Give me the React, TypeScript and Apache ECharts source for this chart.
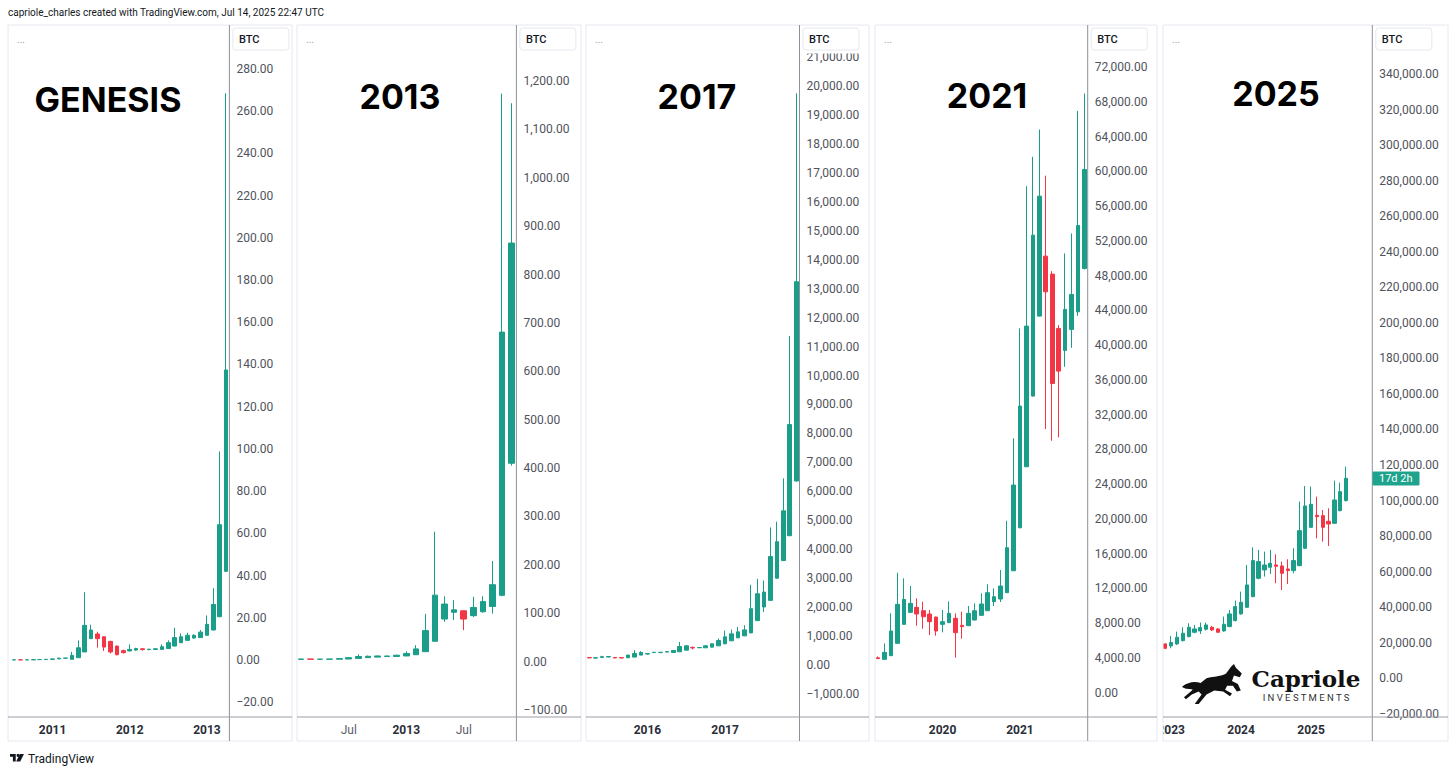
import React, { useEffect, useRef } from "react";
import * as echarts from "echarts";

// ---------- DATA ----------
const genesisMonths = ["2010-07","2010-08","2010-09","2010-10","2010-11","2010-12","2011-01","2011-02","2011-03","2011-04","2011-05","2011-06","2011-07","2011-08","2011-09","2011-10","2011-11","2011-12","2012-01","2012-02","2012-03","2012-04","2012-05","2012-06","2012-07","2012-08","2012-09","2012-10","2012-11","2012-12","2013-01","2013-02","2013-03","2013-04"];
// [open, close, low, high]
const genesisCandles = [
  [0.05,0.07,0.05,0.1],[0.07,0.06,0.05,0.07],[0.06,0.065,0.06,0.07],[0.065,0.19,0.06,0.2],
  [0.19,0.21,0.14,0.5],[0.21,0.3,0.2,0.3],[0.3,0.52,0.3,0.55],[0.52,0.86,0.52,1.1],
  [0.86,0.9,0.7,0.95],[0.3,2.2,0.3,3.8],[1.1,5.8,1.1,9.3],[3.8,16.4,3.8,32.1],
  [10.1,14.2,10.1,16.7],[12.3,10.1,5.8,13.4],[11.0,6.1,4.3,11.3],[8.8,3.8,3.1,9.1],
  [6.6,2.5,2.2,6.8],[4.4,3.5,3.0,4.9],[4.3,5.0,4.0,7.4],[4.7,5.4,4.4,5.8],
  [5.3,5.0,4.4,5.5],[4.9,5.1,4.7,5.3],[5.0,5.3,4.8,5.5],[5.0,6.3,4.9,7.4],
  [5.4,8.2,5.2,9.3],[6.6,10.6,6.5,15.3],[8.2,11.0,8.0,12.6],[9.3,11.7,9.1,12.9],
  [10.4,11.7,10.2,12.2],[10.6,13.2,10.5,14.2],[11.7,16.9,11.5,21.1],[14.2,26.3,14.0,34.0],
  [20.5,64.1,20.3,98.8],[42.0,137.4,41.8,268.5]
];

const cycle2013Months = ["2012-02","2012-03","2012-04","2012-05","2012-06","2012-07","2012-08","2012-09","2012-10","2012-11","2012-12","2013-01","2013-02","2013-03","2013-04","2013-05","2013-06","2013-07","2013-08","2013-09","2013-10","2013-11","2013-12"];
const cycle2013Candles = [
  [4.7,5.4,4.4,5.8],[5.3,5.0,4.4,5.5],[4.9,5.1,4.7,5.3],[5.0,5.3,4.8,5.5],[5.0,6.3,4.9,7.4],
  [5.4,8.2,5.2,9.3],[6.6,10.6,6.5,15.3],[8.2,11.0,8.0,12.6],[9.3,11.7,9.1,12.9],[10.4,11.7,10.2,12.2],
  [10.6,13.2,10.5,14.2],[11.7,16.9,11.5,21.1],[14.2,26.3,14.0,34.0],[20.5,64.1,20.3,98.8],
  [42.0,137.4,41.8,268.5],[88,119,82,135],[102,107,86,127],[105,88,65,106],[95,112,92,134],
  [103,124,101,135],[114,159,99,208],[137,681,135,1174],[410,865,405,1154]
];

const cycle2017Months = ["2015-04","2015-05","2015-06","2015-07","2015-08","2015-09","2015-10","2015-11","2015-12","2016-01","2016-02","2016-03","2016-04","2016-05","2016-06","2016-07","2016-08","2016-09","2016-10","2016-11","2016-12","2017-01","2017-02","2017-03","2017-04","2017-05","2017-06","2017-07","2017-08","2017-09","2017-10","2017-11","2017-12"];
const cycle2017Candles = [
  [262,248,230,270],[240,252,232,262],[265,290,255,321],[280,292,265,310],[262,245,235,270],
  [255,245,238,262],[252,344,248,350],[275,401,270,515],[344,435,340,481],[380,395,360,410],
  [430,440,420,450],[430,442,410,450],[450,462,440,470],[435,504,430,520],[458,641,455,802],
  [515,664,500,690],[610,590,540,640],[596,606,590,615],[596,664,590,680],[619,733,610,750],
  [664,848,655,916],[733,974,720,1191],[836,1077,830,1226],[939,1146,930,1317],[1008,1214,1000,1375],
  [1111,1947,1100,2772],[1535,2463,1520,2978],[2005,2520,1833,2921],[2234,3746,2220,4754],
  [3001,4261,2980,4949],[3608,5327,3590,6449],[4468,8305,4450,11363],[6357,13240,6340,19748]
];

const cycle2021Months = ["2019-03","2019-04","2019-05","2019-06","2019-07","2019-08","2019-09","2019-10","2019-11","2019-12","2020-01","2020-02","2020-03","2020-04","2020-05","2020-06","2020-07","2020-08","2020-09","2020-10","2020-11","2020-12","2021-01","2021-02","2021-03","2021-04","2021-05","2021-06","2021-07","2021-08","2021-09","2021-10","2021-11"];
const cycle2021Candles = [
  [4000,3900,3850,4150],[3817,4622,3800,5658],[4238,7077,4200,9110],[5658,10146,5600,13789],
  [7844,10721,7800,13137],[9225,10261,9200,12255],[9800,9033,7690,10836],[9416,8726,7345,10452],
  [9033,8150,6616,9493],[8688,7077,6540,8726],[7844,8150,6924,9493],[8036,9110,8000,10491],
  [8535,6885,4008,9110],[7729,7575,6194,9301],[7690,9110,7650,9954],[8343,9416,8300,10261],
  [8880,10184,8850,11411],[9416,11488,9400,12447],[10452,11027,9954,11987],[10759,12255,10414,14096],
  [11488,16666,11450,19773],[14019,23877,13980,29247],[18967,32968,18900,41911],[25984,42175,25950,58285],
  [34117,52647,34080,61660],[43325,57134,43300,64808],[50230,46122,30323,59493],[48160,35578,28978,48500],
  [41906,36994,29365,42290],[39378,44094,37490,50541],[41791,45820,39676,52842],[43819,53763,43359,66950],
  [48807,60200,48700,68950]
];

const cycle2025Months = ["2022-12","2023-01","2023-02","2023-03","2023-04","2023-05","2023-06","2023-07","2023-08","2023-09","2023-10","2023-11","2023-12","2024-01","2024-02","2024-03","2024-04","2024-05","2024-06","2024-07","2024-08","2024-09","2024-10","2024-11","2024-12","2025-01","2025-02","2025-03","2025-04","2025-05","2025-06","2025-07","2025-08","2025-09","2025-10","2025-11"];
const cycle2025Candles = [
  [19318,16880,16318,19700],[18193,20068,16880,23818],[19318,23068,18755,26256],[21193,25318,20630,28693],
  [23443,28693,23000,30943],[25880,27755,25318,30006],[26630,28505,24943,31318],[27568,30006,26818,31318],
  [28693,27193,26630,29443],[27755,25880,25693,28300],[26630,30381,26200,34693],[29068,36193,28700,38443],
  [32443,40318,32000,43693],[36193,42756,35800,48756],[39943,52506,39500,63756],[45943,66193,45600,73693],
  [56256,65631,55693,72193],[60943,63756,57193,71256],[62443,64693,58693,72193],[63756,63006,53443,69756],
  [63193,59068,49693,65631],[61506,60568,53068,66943],[60568,66193,59068,73131],[63381,83068,63000,99381],
  [73131,96943,72700,108193],[84943,97881,84500,107818],[91693,90943,78756,102193],[91506,84943,76881,94693],
  [88318,86818,74443,95631],[87193,100318,86800,111193],[94318,105006,93900,110068],[99943,112506,99500,119068]
];

const panelTitles = ["GENESIS", "2013", "2017", "2021", "2025"];
const yMin = [-20, -100, -1000, 0, -20000];
const yMax = [280, 1200, 21000, 72000, 340000];
const yStep = [20, 100, 1000, 4000, 20000];

// ---------- STYLE / LAYOUT ----------
const UP = "#1a9e89";
const DOWN = "#f23645";
const FONT = "Roboto, 'Noto Sans', sans-serif";

const layout = [
  { frameL: 8, frameR: 292, left: 10.8, width: 218.6, top: 69, bottom: 702.2, titleX: 108, titleY: 99, showJul: false },
  { frameL: 297, frameR: 581, left: 296.1, width: 220.3, top: 81, bottom: 710, titleX: 400, titleY: 96, showJul: true },
  { frameL: 586, frameR: 869, left: 586, width: 213.5, top: 57.05, bottom: 694, titleX: 697, titleY: 96, showJul: false },
  { frameL: 875, frameR: 1157, left: 874.8, width: 212.9, top: 67, bottom: 692.5, titleX: 987, titleY: 95, showJul: false },
  { frameL: 1163, frameR: 1448, left: 1162.4, width: 209.9, top: 74, bottom: 713.8, titleX: 1276, titleY: 93, showJul: false },
];
const FRAME_TOP = 25;
const FRAME_BOTTOM = 741;
const SEP_Y = 717;
const LABEL_TOP = 723.5;

const allMonths = [genesisMonths, cycle2013Months, cycle2017Months, cycle2021Months, cycle2025Months];
const allCandles = [genesisCandles, cycle2013Candles, cycle2017Candles, cycle2021Candles, cycle2025Candles];

const priceFmt = (v: number) =>
  (v < 0 ? "\u2212" : "") +
  Math.abs(v).toLocaleString("en-US", { minimumFractionDigits: 2, maximumFractionDigits: 2 });

const horsePath =
  "M0 24 C6 19 13 18 19 20 L25 15 C33 13 40 13 45 10 L50 3 L53 0 L55 4 L61 10 L59 14 L53 12 L51 18 L57 21 L60 28 L56 29 L52 23 L46 23 L44 27 L51 31 L49 34 L42 29 L33 28 L25 32 L17 42 L13 42 L20 32 L17 29 L10 32 L4 37 L2 35 L11 27 C7 26 4 27 0 24 Z";
const tvPath = "M0 0 H7 V9 H3.5 V3.5 H0 Z M12 0 H17 L12.5 9 H7.5 Z";

let shapesRegistered = false;
function registerShapes() {
  if (shapesRegistered) return;
  echarts.graphic.registerShape("horse", echarts.graphic.extendPath(horsePath, {}));
  echarts.graphic.registerShape("tvlogo", echarts.graphic.extendPath(tvPath, {}));
  shapesRegistered = true;
}

function buildOption() {
  const grid = layout.map((p) => ({
    left: p.left,
    top: p.top,
    width: p.width,
    height: p.bottom - p.top,
    containLabel: false,
  }));

  const xAxis = layout.map((p, i) => ({
    type: "category",
    gridIndex: i,
    data: allMonths[i],
    boundaryGap: true,
    axisLine: { show: false },
    axisTick: { show: false },
    splitLine: { show: false },
    axisLabel: {
      margin: LABEL_TOP - p.bottom,
      interval: (_idx: number, val: string) => {
        const m = val.slice(5);
        return m === "01" || (p.showJul && m === "07");
      },
      formatter: (val: string) => {
        const m = val.slice(5);
        if (m === "01") return "{y|" + val.slice(0, 4) + "}";
        if (m === "07") return "{m|Jul}";
        return "";
      },
      rich: {
        y: { fontFamily: FONT, fontSize: 12, fontWeight: "bold", color: "#2a2e39" },
        m: { fontFamily: FONT, fontSize: 12, color: "#5d606b" },
      },
    },
  }));

  const yAxis = layout.map((_p, i) => ({
    type: "value",
    gridIndex: i,
    position: "right",
    min: yMin[i],
    max: yMax[i],
    interval: yStep[i],
    axisLine: { show: false },
    axisTick: { show: false },
    splitLine: { show: false },
    axisLabel: {
      margin: 7,
      color: "#50535c",
      fontSize: 12,
      fontFamily: FONT,
      formatter: (v: number) => priceFmt(v),
    },
  }));

  const series = layout.map((_p, i) => ({
    type: "candlestick",
    xAxisIndex: i,
    yAxisIndex: i,
    data: allCandles[i],
    barWidth: "64%",
    itemStyle: {
      color: UP,
      color0: DOWN,
      borderColor: UP,
      borderColor0: DOWN,
      borderWidth: 1,
    },
  }));

  const elements: any[] = [];
  elements.push({
    type: "text",
    x: 8,
    y: 12,
    z: 100,
    style: {
      text: "capriole_charles created with TradingView.com, Jul 14, 2025 22:47 UTC",
      fill: "#131722",
      fontSize: 10,
      fontFamily: FONT,
      align: "left",
      verticalAlign: "middle",
    },
  });

  // white cover that clips the "2" of the first 2023 label
  elements.push({
    type: "rect",
    z: 95,
    shape: { x: 1157.5, y: SEP_Y + 1, width: 5.5, height: FRAME_BOTTOM - SEP_Y - 1 },
    style: { fill: "#ffffff" },
  });

  layout.forEach((p, i) => {
    const axisX = p.left + p.width;
    elements.push({
      type: "rect",
      z: 96,
      shape: { x: axisX + 1, y: FRAME_TOP + 1, width: p.frameR - axisX - 2, height: 27.5 },
      style: { fill: "#ffffff" },
    });
    elements.push({
      type: "rect",
      z: 100,
      shape: { x: p.frameL, y: FRAME_TOP, width: p.frameR - p.frameL, height: FRAME_BOTTOM - FRAME_TOP },
      style: { fill: "none", stroke: "#e6e8ee", lineWidth: 1 },
    });
    elements.push({
      type: "line",
      z: 100,
      shape: { x1: axisX, y1: FRAME_TOP, x2: axisX, y2: FRAME_BOTTOM },
      style: { stroke: "#8e919a", lineWidth: 1 },
    });
    elements.push({
      type: "line",
      z: 100,
      shape: { x1: p.frameL, y1: SEP_Y, x2: p.frameR, y2: SEP_Y },
      style: { stroke: "#9a9da6", lineWidth: 1 },
    });
    elements.push({
      type: "rect",
      z: 101,
      shape: { x: axisX + 3.5, y: 28, width: 56, height: 22, r: 3 },
      style: { fill: "#ffffff", stroke: "#e6e8ee", lineWidth: 1 },
    });
    elements.push({
      type: "text",
      z: 102,
      x: axisX + 9.5,
      y: 39,
      style: { text: "BTC", fill: "#131722", fontSize: 11, fontWeight: 500, fontFamily: FONT, align: "left", verticalAlign: "middle" },
    });
    elements.push({
      type: "text",
      z: 102,
      x: p.frameL + 9,
      y: 39,
      style: { text: "...", fill: "#9a9da6", fontSize: 10, fontFamily: FONT, align: "left", verticalAlign: "middle" },
    });
    elements.push({
      type: "text",
      z: 102,
      x: p.titleX,
      y: p.titleY,
      style: {
        text: panelTitles[i],
        fill: "#000000",
        fontSize: 34,
        fontWeight: "bold",
        fontFamily: "Inter, 'Liberation Sans', sans-serif",
        align: "center",
        verticalAlign: "middle",
      },
    });
  });

  // countdown badge
  elements.push({
    type: "rect",
    z: 102,
    shape: { x: 1372.5, y: 471.5, width: 47, height: 14, r: 1 },
    style: { fill: "#1fa38d" },
  });
  elements.push({
    type: "text",
    z: 103,
    x: 1379,
    y: 478.5,
    style: { text: "17d 2h", fill: "#ffffff", fontSize: 11, fontFamily: FONT, align: "left", verticalAlign: "middle" },
  });

  // Capriole logo
  elements.push({
    type: "horse",
    z: 102,
    x: 1182,
    y: 664,
    scaleX: 0.98,
    scaleY: 0.95,
    style: { fill: "#111111" },
  });
  elements.push({
    type: "text",
    z: 102,
    x: 1306,
    y: 678,
    style: {
      text: "Capriole",
      fill: "#111111",
      fontSize: 23,
      fontWeight: "bold",
      fontFamily: "'DejaVu Serif', serif",
      align: "center",
      verticalAlign: "middle",
    },
  });
  elements.push({
    type: "text",
    z: 102,
    x: 1306,
    y: 697.5,
    style: {
      text: "I N V E S T M E N T S",
      fill: "#333333",
      fontSize: 9.5,
      fontFamily: FONT,
      align: "center",
      verticalAlign: "middle",
    },
  });

  // TradingView footer
  elements.push({
    type: "tvlogo",
    z: 102,
    x: 10,
    y: 754,
    scaleX: 0.82,
    scaleY: 0.82,
    style: { fill: "#131722" },
  });
  elements.push({
    type: "circle",
    z: 102,
    shape: { cx: 10 + 9.8 * 0.82, cy: 754 + 1.7 * 0.82, r: 1.5 },
    style: { fill: "#131722" },
  });
  elements.push({
    type: "text",
    z: 102,
    x: 28,
    y: 758.5,
    style: { text: "TradingView", fill: "#131722", fontSize: 12, fontFamily: FONT, align: "left", verticalAlign: "middle" },
  });

  return {
    animation: false,
    backgroundColor: "#ffffff",
    grid,
    xAxis,
    yAxis,
    series,
    graphic: { elements },
  };
}

export default function App() {
  const ref = useRef<HTMLDivElement>(null);
  useEffect(() => {
    if (!ref.current) return;
    registerShapes();
    const chart = echarts.init(ref.current, null, { renderer: "svg" });
    chart.setOption(buildOption() as any);
    return () => chart.dispose();
  }, []);
  return (
    <div
      ref={ref}
      style={{ position: "absolute", left: 0, top: 0, width: 1456, height: 773, background: "#ffffff" }}
    />
  );
}
